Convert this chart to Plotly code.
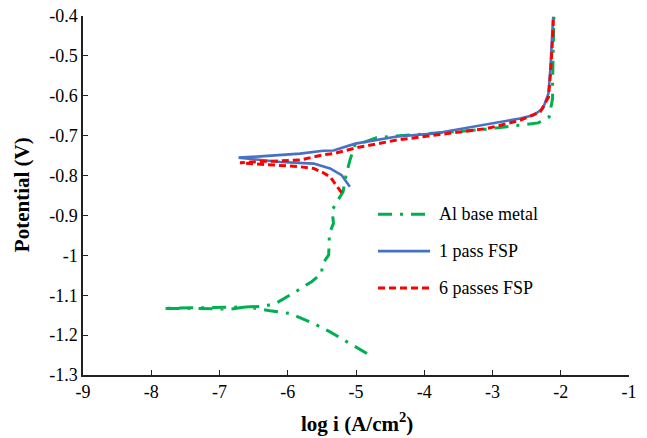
import plotly.graph_objects as go

# ---- data ----
al_x = [-4.84, -5.38, -5.62, -5.96, -6.26, -6.60, -6.84, -7.33, -7.83,
        -7.30, -6.80, -6.35, -6.16, -5.92, -5.65, -5.50, -5.50, -5.40, -5.39,
        -5.39, -5.33, -5.35, -5.28, -5.19, -5.15, -5.09, -5.02, -4.70, -4.43,
        -4.09, -3.87, -3.43, -3.16, -2.82, -2.50, -2.33, -2.17, -2.12, -2.12,
        -2.11, -2.10]
al_y = [-1.246, -1.192, -1.171, -1.146, -1.139, -1.129, -1.135, -1.133, -1.133,
        -1.132, -1.130, -1.128, -1.119, -1.095, -1.066, -1.045, -1.024, -0.999, -0.970,
        -0.945, -0.920, -0.887, -0.866, -0.841, -0.803, -0.762, -0.725, -0.705, -0.701,
        -0.697, -0.695, -0.688, -0.685, -0.678, -0.671, -0.668, -0.653, -0.607, -0.569,
        -0.494, -0.402]

p1_x = [-5.09, -5.21, -5.38, -5.62, -6.11, -6.50, -6.72,
        -6.40, -6.06, -5.82, -5.48, -5.33, -5.01, -4.40, -3.87, -3.28,
        -2.89, -2.60, -2.40, -2.26, -2.18, -2.15, -2.12, -2.11]
p1_y = [-0.828, -0.799, -0.782, -0.770, -0.766, -0.760, -0.755,
        -0.752, -0.747, -0.745, -0.738, -0.737, -0.720, -0.702, -0.695, -0.678,
        -0.665, -0.657, -0.649, -0.632, -0.594, -0.528, -0.428, -0.402]

p6_x = [-5.21, -5.38, -5.48, -5.62, -5.82, -6.36, -6.70,
        -6.40, -6.06, -5.82, -5.48, -5.33, -4.99, -4.40, -3.77, -3.08,
        -2.60, -2.30, -2.18, -2.15, -2.11, -2.11]
p6_y = [-0.843, -0.803, -0.793, -0.782, -0.778, -0.771, -0.768,
        -0.765, -0.763, -0.761, -0.748, -0.745, -0.730, -0.711, -0.697, -0.682,
        -0.662, -0.640, -0.603, -0.544, -0.428, -0.410]

series_names = ["Al base metal", "1 pass FSP", "6 passes FSP"]
series_colors = ["#00B050", "#4472C4", "#FF0000"]

x_ticks = [-9, -8, -7, -6, -5, -4, -3, -2, -1]
x_ticktext = ["-9", "-8", "-7", "-6", "-5", "-4", "-3", "-2", "-1"]
y_ticks = [-0.4, -0.5, -0.6, -0.7, -0.8, -0.9, -1.0, -1.1, -1.2, -1.3]
y_ticktext = ["-0.4", "-0.5", "-0.6", "-0.7", "-0.8", "-0.9", "-1", "-1.1", "-1.2", "-1.3"]

x_title = "<b>log i (A/cm<sup>2</sup>)</b>"
y_title = "<b>Potential (V)</b>"

FONT = "Liberation Serif, Times New Roman, serif"
dashes = ["14px,8px,3px,8px", "solid", "7px,4px"]
widths = [3, 2.6, 3]

fig = go.Figure()
for xs, ys, name, col, dsh, w in zip([al_x, p1_x, p6_x], [al_y, p1_y, p6_y],
                                     series_names, series_colors, dashes, widths):
    fig.add_trace(go.Scatter(x=xs, y=ys, mode="lines", name=name,
                             line=dict(color=col, width=w, dash=dsh),
                             showlegend=False))

L, R, T, B = 83, 629, 15.7, 375
W, H = 647, 438
def px2paper(px, py):
    return (px - L) / (R - L), (B - py) / (B - T)

# manual legend
leg_y = [214, 251, 288]
for name, col, dsh, w, py in zip(series_names, series_colors, dashes, widths, leg_y):
    x0, y0 = px2paper(378, py)
    x1, _ = px2paper(430, py)
    fig.add_shape(type="line", xref="paper", yref="paper", x0=x0, x1=x1, y0=y0, y1=y0,
                  line=dict(color=col, width=w, dash=dsh))
    tx, _ = px2paper(437, py)
    fig.add_annotation(xref="paper", yref="paper", x=tx, y=y0, text=name,
                       showarrow=False, xanchor="left", yanchor="middle",
                       font=dict(family=FONT, size=18, color="black"))

# axis titles
xt, yt = px2paper(357, 423)
fig.add_annotation(xref="paper", yref="paper", x=xt, y=yt, text=x_title,
                   showarrow=False, xanchor="center", yanchor="middle",
                   font=dict(family=FONT, size=21, color="black"))
xt, yt = px2paper(22, 195)
fig.add_annotation(xref="paper", yref="paper", x=xt, y=yt, text=y_title, textangle=-90,
                   showarrow=False, xanchor="center", yanchor="middle",
                   font=dict(family=FONT, size=21, color="black"))

fig.update_layout(
    width=W, height=H,
    margin=dict(l=L, r=W - R, t=T, b=H - B, autoexpand=False),
    paper_bgcolor="white", plot_bgcolor="white",
    font=dict(family=FONT, size=18, color="black"),
    showlegend=False,
)
fig.update_xaxes(range=[-9, -1], tickvals=x_ticks, ticktext=x_ticktext, automargin=False,
                 showgrid=False, zeroline=False, showline=True, linecolor="#222",
                 linewidth=1.5, ticks="inside", ticklen=5, tickcolor="#222", tickwidth=1.2,
                 tickfont=dict(family=FONT, size=18, color="black"))
fig.update_yaxes(range=[-1.3, -0.4], tickvals=y_ticks, ticktext=y_ticktext, automargin=False,
                 showgrid=False, zeroline=False, showline=True, linecolor="#222",
                 linewidth=1.5, ticks="inside", ticklen=5, tickcolor="#222", tickwidth=1.2,
                 tickfont=dict(family=FONT, size=18, color="black"))

fig.write_html("out.html")
